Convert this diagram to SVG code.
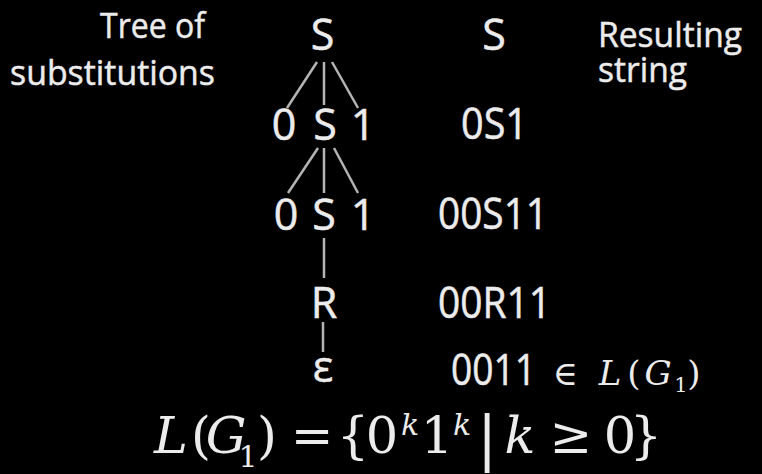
<svg xmlns="http://www.w3.org/2000/svg" width="762" height="474" viewBox="0 0 762 474">
<style>
.s{font-family:"Open Sans",Lato,"DejaVu Sans",sans-serif;fill:#ececec;stroke:#ececec;stroke-width:0.5}
.t{font-size:43px;text-anchor:middle}
.lbl{font-size:35px}
.m{font-family:"DejaVu Serif","Liberation Serif",serif;fill:#ececec;text-anchor:middle}
.i{font-style:italic}
.e{stroke:#b4b4b4;stroke-width:2.5;fill:none}
</style>
<rect width="762" height="474" fill="#000"/>
<g id="labels">
<text class="s lbl" x="100" y="38" textLength="105" lengthAdjust="spacingAndGlyphs">Tree of</text>
<text class="s lbl" x="10" y="85" textLength="205" lengthAdjust="spacingAndGlyphs">substitutions</text>
<text class="s lbl" x="598" y="47" textLength="144" lengthAdjust="spacingAndGlyphs">Resulting</text>
<text class="s lbl" x="598" y="82" textLength="89" lengthAdjust="spacingAndGlyphs">string</text>
</g>
<g id="connectors">
<line class="e" x1="317" y1="62" x2="287" y2="108"/>
<line class="e" x1="324" y1="62" x2="324" y2="105"/>
<line class="e" x1="332" y1="62" x2="358" y2="108"/>
<line class="e" x1="318" y1="148" x2="288" y2="193"/>
<line class="e" x1="324" y1="148" x2="324" y2="193"/>
<line class="e" x1="334" y1="148" x2="358" y2="193"/>
<line class="e" x1="324" y1="238" x2="324" y2="278"/>
<line class="e" x1="323" y1="322" x2="323" y2="352"/>
</g>
<g id="tree">
<g id="n-S1"><text class="s t" x="322.5" y="50">S</text></g>
<g id="n-0a"><text class="s t" x="284" y="140">0</text></g>
<g id="n-S2"><text class="s t" x="325" y="140">S</text></g>
<g id="n-1a"><text class="s t" x="363" y="140">1</text></g>
<g id="n-0b"><text class="s t" x="286" y="230">0</text></g>
<g id="n-S3"><text class="s t" x="324" y="230">S</text></g>
<g id="n-1b"><text class="s t" x="363" y="230">1</text></g>
<g id="n-R"><text class="s t" x="324" y="318">R</text></g>
<g id="n-eps"><text class="s t" x="323" y="382">ε</text></g>
</g>
<g id="strings">
<text class="s t" x="494" y="50">S</text>
<text class="s" style="font-size:43px" x="461" y="139" textLength="67" lengthAdjust="spacingAndGlyphs">0S1</text>
<text class="s" style="font-size:43px" x="438" y="229" textLength="110" lengthAdjust="spacingAndGlyphs">00S11</text>
<text class="s" style="font-size:43px" x="438" y="318" textLength="113" lengthAdjust="spacingAndGlyphs">00R11</text>
<text class="s" style="font-size:43px" x="451" y="385" textLength="85" lengthAdjust="spacingAndGlyphs">0011</text>
<text class="m" style="font-size:34px" x="565" y="385">∈</text>
<text class="m i" style="font-size:34px" x="610" y="385">L</text>
<text class="m" style="font-size:34px" x="634" y="385">(</text>
<text class="m i" style="font-size:34px" x="658" y="385">G</text>
<text class="m" style="font-size:21px" x="681" y="392">1</text>
<text class="m" style="font-size:34px" x="694" y="385">)</text>
</g>
<g id="formula">
<text class="m i" style="font-size:51px" x="171" y="453">L</text>
<text class="m" style="font-size:51px" x="201" y="453">(</text>
<text class="m i" style="font-size:51px" x="226" y="453">G</text>
<text class="m" style="font-size:30px" x="248" y="467">1</text>
<text class="m" style="font-size:51px" x="267" y="453">)</text>
<text class="m" style="font-size:51px" x="312" y="453">=</text>
<text class="m" style="font-size:51px" x="353" y="453">{</text>
<text class="m" style="font-size:51px" x="382" y="453">0</text>
<text class="m i" style="font-size:30px" x="410" y="435">k</text>
<text class="m" style="font-size:51px" x="437" y="453">1</text>
<text class="m i" style="font-size:30px" x="462" y="435">k</text>
<text class="m" style="font-size:60px" x="487" y="459">|</text>
<text class="m i" style="font-size:51px" x="520" y="453">k</text>
<text class="m" style="font-size:51px" x="571" y="453">≥</text>
<text class="m" style="font-size:51px" x="620" y="453">0</text>
<text class="m" style="font-size:51px" x="646" y="453">}</text>
</g>
</svg>
